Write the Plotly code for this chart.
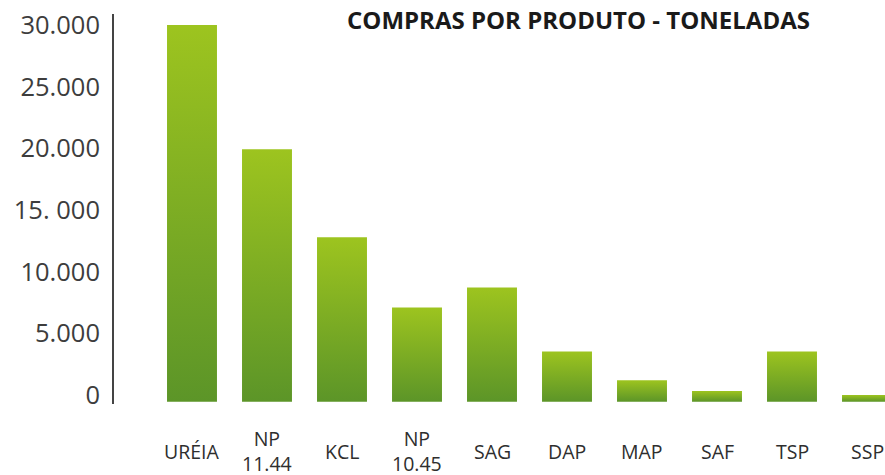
import plotly.graph_objects as go

categories = ["URÉIA", "NP<br>11.44", "KCL", "NP<br>10.45", "SAG", "DAP", "MAP", "SAF", "TSP", "SSP"]
values = [30000, 20100, 13100, 7500, 9100, 4000, 1700, 850, 4000, 530]
tick_values = [0, 5000, 10000, 15000, 20000, 25000, 30000]
tick_labels = ["0", "5.000", "10.000", "15. 000", "20.000", "25.000", "30.000"]
title_text = "COMPRAS POR PRODUTO - TONELADAS"

TOP = "#9dc41f"
BOTTOM = "#5c9528"
HALF_W = 0.333

fig = go.Figure()
for i, (cat, v) in enumerate(zip(categories, values)):
    fig.add_trace(go.Scatter(
        x=[i - HALF_W, i + HALF_W, i + HALF_W, i - HALF_W, i - HALF_W],
        y=[0, 0, v, v, 0],
        fill="toself",
        mode="none",
        fillgradient=dict(type="vertical", colorscale=[[0, BOTTOM], [1, TOP]]),
        hoverinfo="skip",
        showlegend=False,
    ))

# invisible trace for the label axis
fig.add_trace(go.Scatter(x=[0], y=[0], yaxis="y2", mode="markers",
                         marker=dict(opacity=0), hoverinfo="skip", showlegend=False))

annotations = []
for i, cat in enumerate(categories):
    annotations.append(dict(
        x=i, xref="x", y=-0.121, yref="paper", text=cat, showarrow=False,
        xanchor="center", yanchor="middle", align="center", borderpad=0,
        font=dict(family="Open Sans", size=19.5, color="#2e2e2e"),
    ))
annotations.append(dict(
    x=0.6025, xref="paper", y=0.987, yref="paper", text=title_text, showarrow=False,
    xanchor="center", yanchor="middle", borderpad=0,
    font=dict(family="Open Sans", size=24, color="#1a1a1a", weight=700),
))

fig.update_layout(
    width=885, height=475,
    margin=dict(l=114, r=0, t=14, b=71, autoexpand=False),
    paper_bgcolor="white", plot_bgcolor="white",
    xaxis=dict(range=[-1.04, 9.24], showgrid=False, zeroline=False,
               showticklabels=False, showline=False, fixedrange=True),
    yaxis=dict(range=[-183, 30875], showgrid=False, zeroline=False,
               showticklabels=False, showline=True, linewidth=2, linecolor="#444444",
               ticks=""),
    yaxis2=dict(range=[-730, 30892], overlaying="y", side="left",
                showgrid=False, zeroline=False, showline=False,
                tickvals=tick_values, ticktext=tick_labels, ticks="",
                ticklabelstandoff=13, ticklabeloverflow="allow",
                tickfont=dict(family="Open Sans", size=25.5, color="#3d3d3d")),
    annotations=annotations,
)

fig.write_html(
    "out.html",
    config={"displayModeBar": False},
    post_script="document.body.style.margin='0';document.body.style.overflow='hidden';",
)
